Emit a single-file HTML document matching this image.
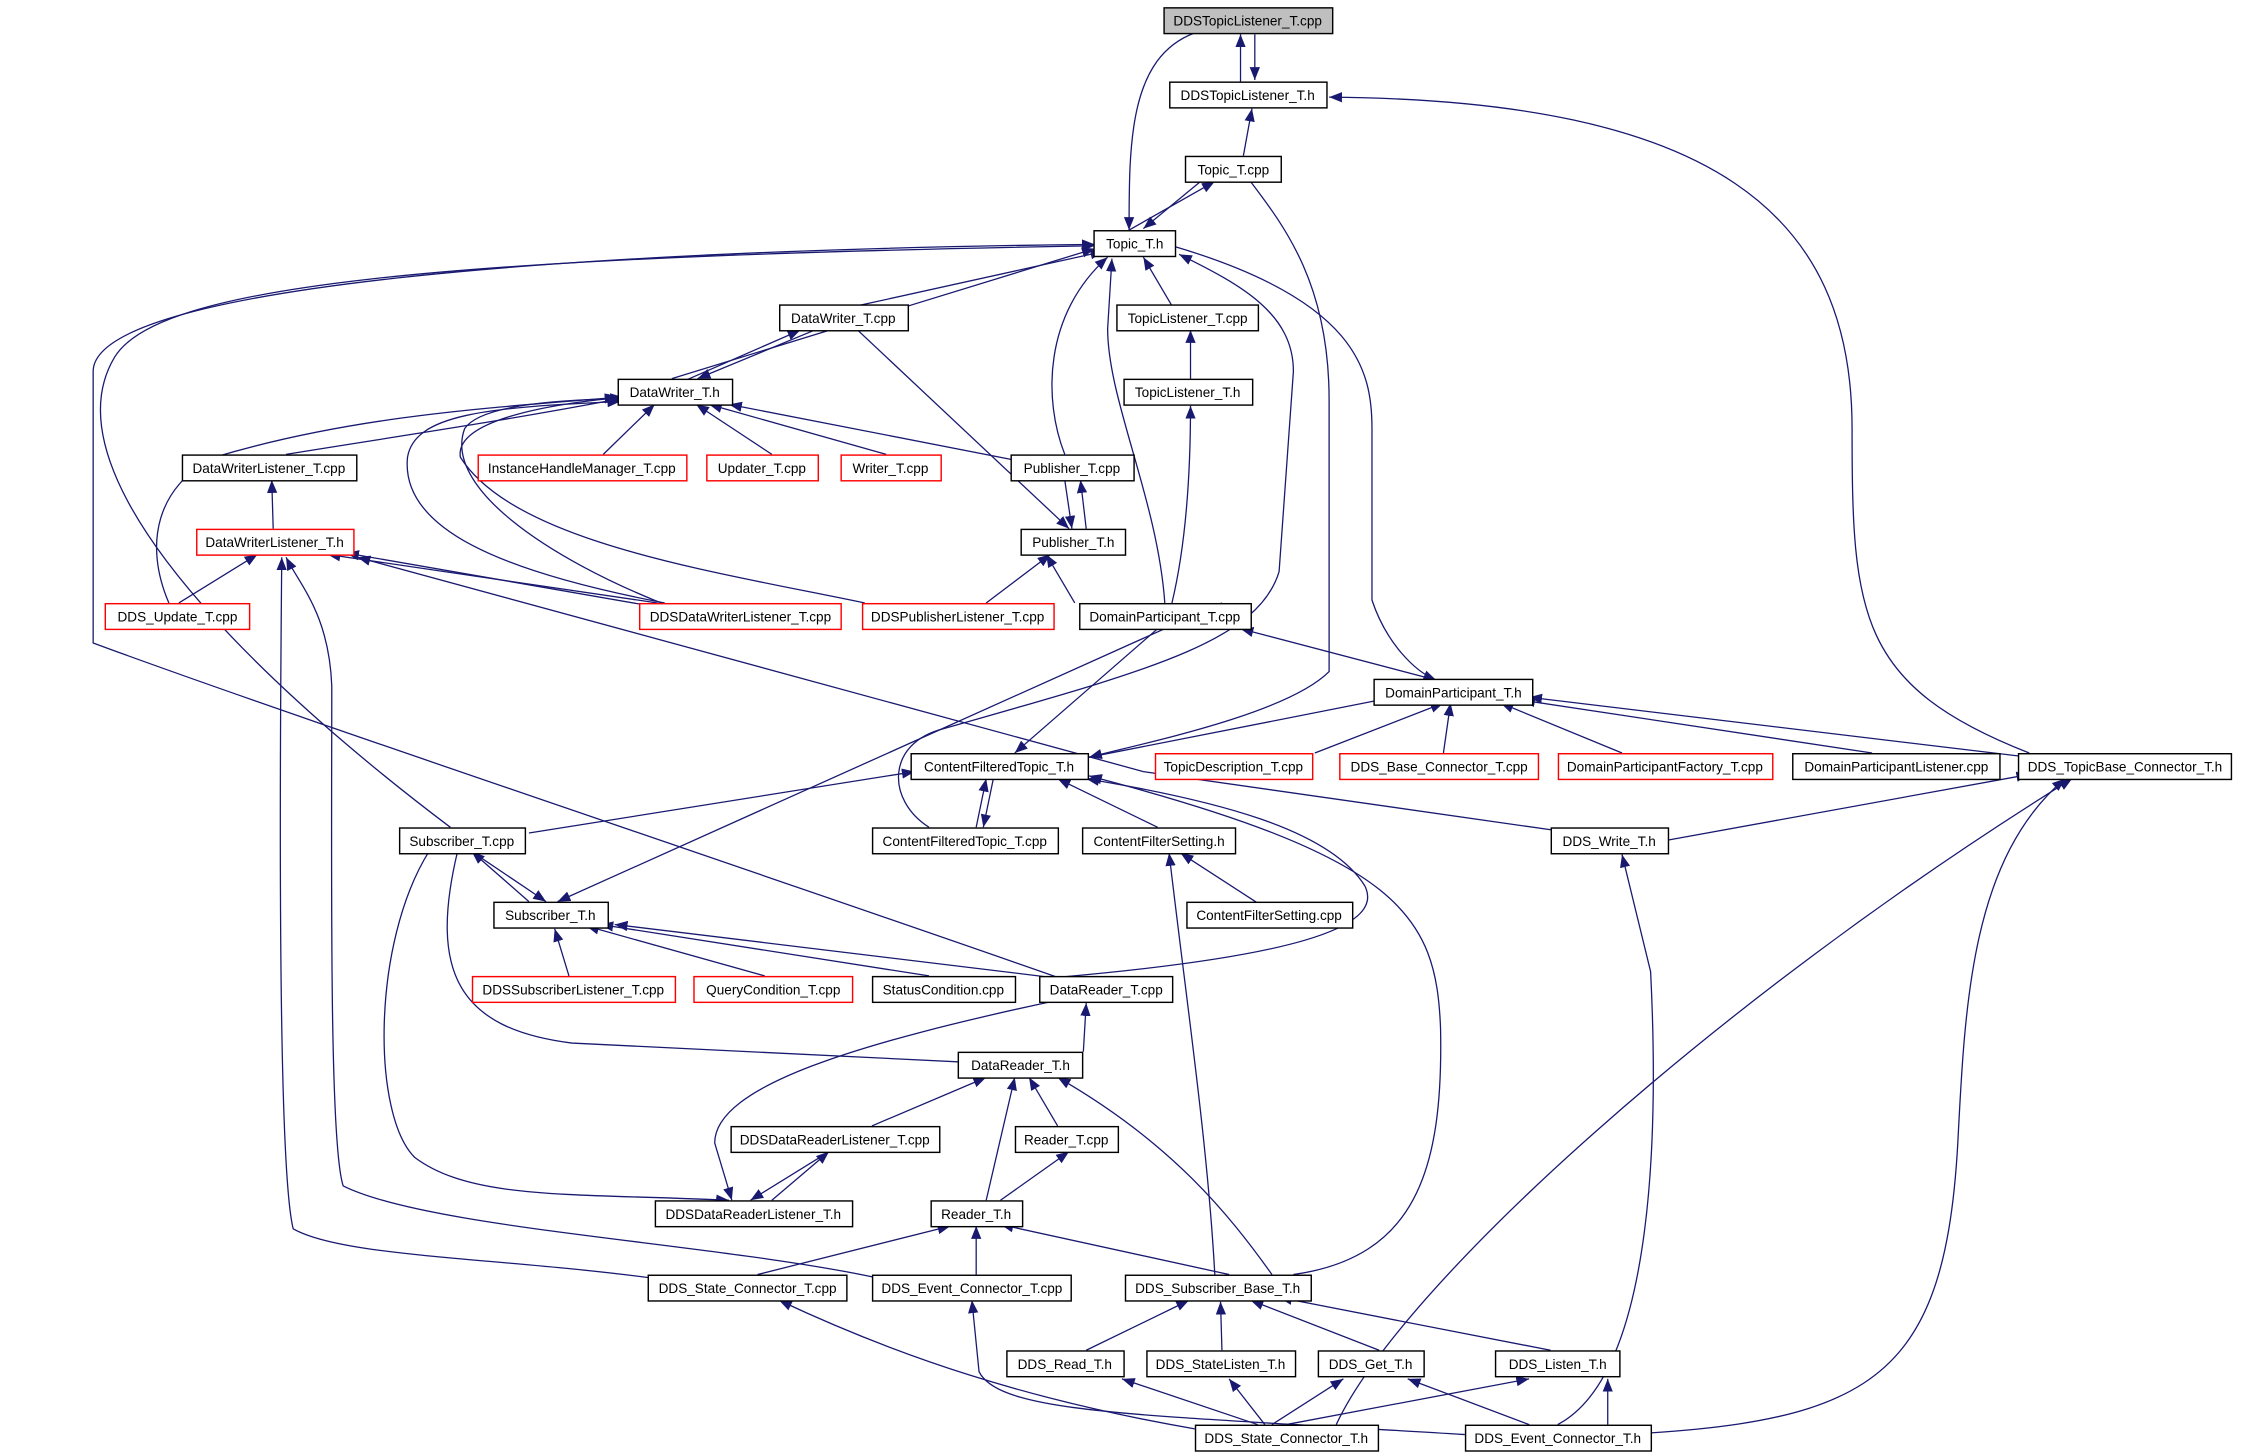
<!DOCTYPE html>
<html><head><meta charset="utf-8"><style>
html,body{margin:0;padding:0;background:#fff;}
svg{display:block;}
text{font-family:"Liberation Sans",sans-serif;font-size:9.5px;fill:#000;}
</style></head><body>
<svg width="2241" height="1456" viewBox="0 0 1568 1019" xmlns="http://www.w3.org/2000/svg">
<defs><marker id="a" viewBox="0 0 10 10" refX="10" refY="5" markerWidth="9" markerHeight="9" markerUnits="userSpaceOnUse" orient="auto"><path d="M0,1 L10,5 L0,9 z" fill="#191970"/></marker></defs>
<g fill="none" stroke="#191970" stroke-width="0.9" marker-end="url(#a)">
<path d="M868,57 L868,24"/>
<path d="M878,24 L878,56"/>
<path d="M870,109 L876,76"/>
<path d="M836,23 C790,40 790,100 790,161"/>
<path d="M1420,527 C1300,480 1296,430 1296,300 C1296,150 1200,70 930,68"/>
<path d="M840,127 L800,160"/>
<path d="M790,161 L850,127"/>
<path d="M875,127 C900,160 930,200 930,280 L930,470 C900,500 800,520 762,530"/>
<path d="M600,214 L772,176"/>
<path d="M820,214 L800,180"/>
<path d="M470,265 L766,174"/>
<path d="M745,318 C730,280 730,220 775,180"/>
<path d="M815,422 C810,350 775,280 775,230 L778,181"/>
<path d="M315,579 C250,530 20,350 80,250 C110,200 300,180 766,172"/>
<path d="M740,684 C500,600 200,500 65,450 L65,260 C65,200 400,175 766,171"/>
<path d="M650,579 C620,560 620,520 660,510 C800,470 880,450 895,400 L905,260 C905,220 870,200 825,178"/>
<path d="M820,172 C950,210 960,260 960,300 L960,420 C970,450 990,470 1005,476"/>
<path d="M833,265 L833,231"/>
<path d="M820,422 C830,380 833,330 833,284"/>
<path d="M480,266 L560,231"/>
<path d="M570,231 L488,265"/>
<path d="M200,318 C280,305 350,295 434,279"/>
<path d="M422,318 L458,283"/>
<path d="M540,318 L487,283"/>
<path d="M620,318 L496,283"/>
<path d="M710,322 L510,283"/>
<path d="M118,422 C100,380 110,340 150,320 C250,290 350,285 432,278"/>
<path d="M465,422 C350,400 280,370 285,320 C290,290 340,285 434,281"/>
<path d="M470,425 C380,390 310,340 325,300 C335,285 380,280 434,279"/>
<path d="M605,422 C500,400 360,380 322,320 C318,295 380,283 436,278"/>
<path d="M752,422 L732,388"/>
<path d="M690,422 L735,388"/>
<path d="M760,370 L756,336"/>
<path d="M745,336 L750,370"/>
<path d="M600,231 L748,370"/>
<path d="M191,370 L190,336"/>
<path d="M125,422 L180,388"/>
<path d="M460,422 L229,388"/>
<path d="M466,426 L242,387"/>
<path d="M1087,581 L800,540 L250,390"/>
<path d="M460,895 C350,880 240,880 205,860 C195,820 195,600 197,390"/>
<path d="M612,894 C500,870 300,860 240,830 C230,800 232,600 232,480 C230,430 210,410 200,390"/>
<path d="M1005,476 L868,440"/>
<path d="M920,527 L1010,492"/>
<path d="M1010,527 L1015,492"/>
<path d="M1135,527 L1050,492"/>
<path d="M1310,527 L1065,490"/>
<path d="M1420,530 L1070,488"/>
<path d="M762,530 L975,488"/>
<path d="M810,440 L710,527"/>
<path d="M683,579 L690,545"/>
<path d="M695,545 L688,579"/>
<path d="M810,579 L740,545"/>
<path d="M370,583 L640,540"/>
<path d="M905,892 C990,880 1010,820 1008,720 C1005,640 980,600 762,543"/>
<path d="M740,684 C900,670 970,650 955,620 C930,580 850,560 760,545"/>
<path d="M1167,588 L1420,542"/>
<path d="M935,997 C980,900 1200,700 1450,545"/>
<path d="M1080,1006 C1300,1000 1360,980 1370,800 C1375,700 1380,600 1445,545"/>
<path d="M855,422 L390,631"/>
<path d="M370,631 L330,596"/>
<path d="M330,596 L382,631"/>
<path d="M398,683 L388,650"/>
<path d="M535,683 L410,648"/>
<path d="M650,683 L420,647"/>
<path d="M735,684 L430,647"/>
<path d="M320,596 C300,680 320,720 400,730 L688,744"/>
<path d="M758,736 L760,702"/>
<path d="M610,788 L690,754"/>
<path d="M740,788 L720,754"/>
<path d="M690,840 L710,754"/>
<path d="M890,892 C860,850 820,800 740,754"/>
<path d="M300,596 C260,660 260,780 290,810 C330,840 400,835 510,840"/>
<path d="M740,700 C600,730 500,760 500,800 L512,840"/>
<path d="M540,840 L580,806"/>
<path d="M580,806 L525,840"/>
<path d="M880,632 L826,597"/>
<path d="M850,892 C845,800 830,700 818,597"/>
<path d="M700,840 L748,806"/>
<path d="M530,892 L665,858"/>
<path d="M683,892 L683,858"/>
<path d="M860,892 L700,857"/>
<path d="M760,945 L832,910"/>
<path d="M855,945 L854,911"/>
<path d="M965,945 L875,910"/>
<path d="M1085,945 L895,908"/>
<path d="M880,997 L785,965"/>
<path d="M885,997 L860,965"/>
<path d="M890,997 L940,965"/>
<path d="M900,997 L1070,965"/>
<path d="M1070,997 L985,965"/>
<path d="M1125,997 L1125,965"/>
<path d="M1090,997 C1160,960 1160,780 1155,680 L1135,598"/>
<path d="M836,1000 C720,980 630,950 545,910"/>
<path d="M1025,1004 C800,990 700,990 685,960 L680,910"/>
</g>
<rect x="814.5" y="5.5" width="118" height="18" fill="#bfbfbf" stroke="#000"/><text x="873" y="18" text-anchor="middle">DDSTopicListener_T.cpp</text>
<g fill="#fff" stroke="#000">
<rect x="818.5" y="57.5" width="110" height="18"/>
<rect x="829.5" y="109.5" width="67" height="18"/>
<rect x="765.5" y="161.5" width="57" height="18"/>
<rect x="545.5" y="213.5" width="90" height="18"/>
<rect x="781.5" y="213.5" width="99" height="18"/>
<rect x="432.5" y="265.5" width="80" height="18"/>
<rect x="786.5" y="265.5" width="90" height="18"/>
<rect x="127.5" y="318.5" width="122" height="18"/>
<rect x="707.5" y="318.5" width="86" height="18"/>
<rect x="714.5" y="370.5" width="73" height="18"/>
<rect x="755.5" y="422.5" width="120" height="18"/>
<rect x="961.5" y="475.5" width="111" height="18"/>
<rect x="1254.5" y="527.5" width="145" height="18"/>
<rect x="1412.5" y="527.5" width="149" height="18"/>
<rect x="637.5" y="527.5" width="124" height="18"/>
<rect x="279.5" y="579.5" width="88" height="18"/>
<rect x="610.5" y="579.5" width="130" height="18"/>
<rect x="757.5" y="579.5" width="107" height="18"/>
<rect x="1085.5" y="579.5" width="82" height="18"/>
<rect x="830.5" y="631.5" width="116" height="18"/>
<rect x="345.5" y="631.5" width="80" height="18"/>
<rect x="610.5" y="683.5" width="100" height="18"/>
<rect x="727.5" y="683.5" width="93" height="18"/>
<rect x="670.5" y="736.5" width="87" height="18"/>
<rect x="511.5" y="788.5" width="146" height="18"/>
<rect x="710.5" y="788.5" width="72" height="18"/>
<rect x="458.5" y="840.5" width="138" height="18"/>
<rect x="651.5" y="840.5" width="64" height="18"/>
<rect x="453.5" y="892.5" width="139" height="18"/>
<rect x="610.5" y="892.5" width="139" height="18"/>
<rect x="787.5" y="892.5" width="130" height="18"/>
<rect x="704.5" y="945.5" width="82" height="18"/>
<rect x="802.5" y="945.5" width="104" height="18"/>
<rect x="922.5" y="945.5" width="74" height="18"/>
<rect x="1046.5" y="945.5" width="87" height="18"/>
<rect x="836.5" y="997.5" width="128" height="18"/>
<rect x="1025.5" y="997.5" width="130" height="18"/>
</g>
<g fill="#fff" stroke="#ff0000">
<rect x="334.5" y="318.5" width="146" height="18"/>
<rect x="494.5" y="318.5" width="78" height="18"/>
<rect x="588.5" y="318.5" width="70" height="18"/>
<rect x="137.5" y="370.5" width="110" height="18"/>
<rect x="73.5" y="422.5" width="101" height="18"/>
<rect x="447.5" y="422.5" width="141" height="18"/>
<rect x="603.5" y="422.5" width="134" height="18"/>
<rect x="808.5" y="527.5" width="110" height="18"/>
<rect x="937.5" y="527.5" width="139" height="18"/>
<rect x="1090.5" y="527.5" width="150" height="18"/>
<rect x="330.5" y="683.5" width="142" height="18"/>
<rect x="485.5" y="683.5" width="111" height="18"/>
</g>
<g text-anchor="middle">
<text x="873" y="70">DDSTopicListener_T.h</text>
<text x="863" y="122">Topic_T.cpp</text>
<text x="794" y="174">Topic_T.h</text>
<text x="590" y="226">DataWriter_T.cpp</text>
<text x="831" y="226">TopicListener_T.cpp</text>
<text x="472" y="278">DataWriter_T.h</text>
<text x="831" y="278">TopicListener_T.h</text>
<text x="188" y="331">DataWriterListener_T.cpp</text>
<text x="407" y="331">InstanceHandleManager_T.cpp</text>
<text x="533" y="331">Updater_T.cpp</text>
<text x="623" y="331">Writer_T.cpp</text>
<text x="750" y="331">Publisher_T.cpp</text>
<text x="192" y="383">DataWriterListener_T.h</text>
<text x="751" y="383">Publisher_T.h</text>
<text x="124" y="435">DDS_Update_T.cpp</text>
<text x="518" y="435">DDSDataWriterListener_T.cpp</text>
<text x="670" y="435">DDSPublisherListener_T.cpp</text>
<text x="815" y="435">DomainParticipant_T.cpp</text>
<text x="1017" y="488">DomainParticipant_T.h</text>
<text x="863" y="540">TopicDescription_T.cpp</text>
<text x="1007" y="540">DDS_Base_Connector_T.cpp</text>
<text x="1165" y="540">DomainParticipantFactory_T.cpp</text>
<text x="1327" y="540">DomainParticipantListener.cpp</text>
<text x="1487" y="540">DDS_TopicBase_Connector_T.h</text>
<text x="699" y="540">ContentFilteredTopic_T.h</text>
<text x="323" y="592">Subscriber_T.cpp</text>
<text x="675" y="592">ContentFilteredTopic_T.cpp</text>
<text x="811" y="592">ContentFilterSetting.h</text>
<text x="1126" y="592">DDS_Write_T.h</text>
<text x="888" y="644">ContentFilterSetting.cpp</text>
<text x="385" y="644">Subscriber_T.h</text>
<text x="401" y="696">DDSSubscriberListener_T.cpp</text>
<text x="541" y="696">QueryCondition_T.cpp</text>
<text x="660" y="696">StatusCondition.cpp</text>
<text x="774" y="696">DataReader_T.cpp</text>
<text x="714" y="749">DataReader_T.h</text>
<text x="584" y="801">DDSDataReaderListener_T.cpp</text>
<text x="746" y="801">Reader_T.cpp</text>
<text x="527" y="853">DDSDataReaderListener_T.h</text>
<text x="683" y="853">Reader_T.h</text>
<text x="523" y="905">DDS_State_Connector_T.cpp</text>
<text x="680" y="905">DDS_Event_Connector_T.cpp</text>
<text x="852" y="905">DDS_Subscriber_Base_T.h</text>
<text x="745" y="958">DDS_Read_T.h</text>
<text x="854" y="958">DDS_StateListen_T.h</text>
<text x="959" y="958">DDS_Get_T.h</text>
<text x="1090" y="958">DDS_Listen_T.h</text>
<text x="900" y="1010">DDS_State_Connector_T.h</text>
<text x="1090" y="1010">DDS_Event_Connector_T.h</text>
</g>
</svg>
</body></html>
